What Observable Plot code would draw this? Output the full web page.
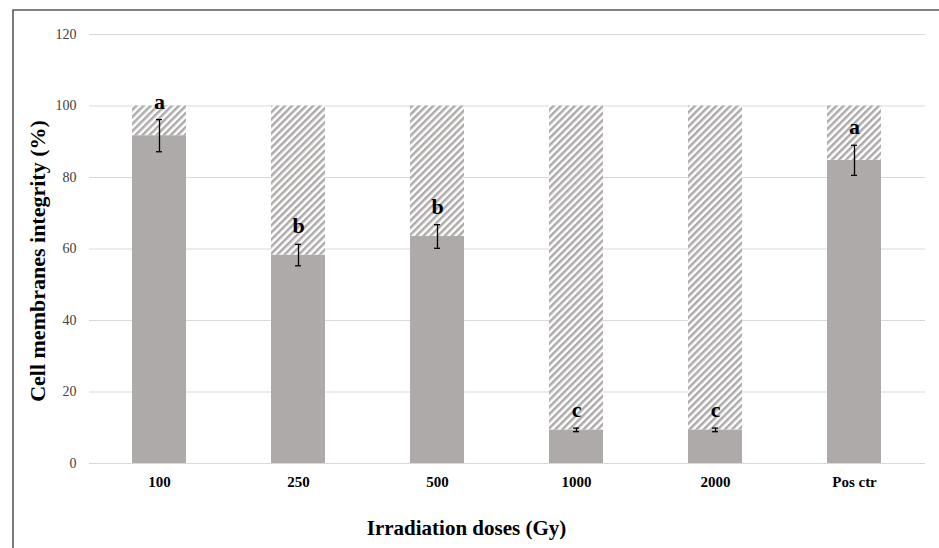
<!DOCTYPE html>
<html><head><meta charset="utf-8">
<script src="https://cdn.jsdelivr.net/npm/d3@7"></script>
<script src="https://cdn.jsdelivr.net/npm/@observablehq/plot@0.6"></script>
<style>body{margin:0;background:#fff;overflow:hidden}</style>
</head><body><div id="chart"></div>
<script>
// ---- data ----
const doses = ["100", "250", "500", "1000", "2000", "Pos ctr"];
const integrity = [91.7, 58.3, 63.5, 9.4, 9.4, 84.8];
const errors = [4.5, 3.0, 3.3, 0.5, 0.5, 4.2];
const letters = ["a", "b", "b", "c", "c", "a"];
const yTicks = [0, 20, 40, 60, 80, 100, 120];
const total = 100;

const rows = doses.map((d, i) => ({
  dose: d,
  mean: integrity[i],
  lo: integrity[i] - errors[i],
  hi: integrity[i] + errors[i],
  letter: letters[i]
}));

const serif = "'Liberation Serif', 'Times New Roman', serif";

const chart = Plot.plot({
  width: 939, height: 548,
  marginLeft: 89, marginRight: 14, marginTop: 34, marginBottom: 85,
  style: {fontFamily: serif, background: "white", color: "black"},
  x: {domain: doses, paddingInner: 0.61, paddingOuter: 0.305, label: null},
  y: {domain: [0, 120], label: null},
  marks: [
    Plot.gridY(yTicks, {stroke: "#d9d9d9", strokeOpacity: 1, strokeWidth: 1}),
    Plot.barY(rows, {x: "dose", y1: 0, y2: "mean", fill: "#aeaaaa"}),
    Plot.barY(rows, {x: "dose", y1: "mean", y2: total, fill: "url(#hatch)"}),
    Plot.ruleX(rows, {x: "dose", y1: "lo", y2: "hi", stroke: "black", strokeWidth: 1.3}),
    Plot.tickY(rows, {x: "dose", y: "lo", stroke: "black", strokeWidth: 1.3, insetLeft: 24, insetRight: 24}),
    Plot.tickY(rows, {x: "dose", y: "hi", stroke: "black", strokeWidth: 1.3, insetLeft: 24, insetRight: 24}),
    Plot.text(rows, {x: "dose", y: "hi", text: "letter", dy: -11, lineAnchor: "bottom",
      fontSize: 22, fontWeight: "bold", fill: "black"}),
    Plot.axisY({ticks: yTicks, tickSize: 0, tickPadding: 13, fontSize: 14, fill: "#404040", label: null}),
    Plot.axisX({tickSize: 0, tickPadding: 13, fontSize: 15, fontWeight: "bold", fill: "black", label: null}),
    Plot.text(["Irradiation doses (Gy)"], {frameAnchor: "bottom", textAnchor: "middle", dx: -41, dy: 71,
      fontSize: 21, fontWeight: "bold", fill: "black"}),
    Plot.text(["Cell membranes integrity (%)"], {frameAnchor: "left", textAnchor: "middle", rotate: -90,
      dx: -52, dy: 12, fontSize: 22, fontWeight: "bold", fill: "black"})
  ]
});

// hatch pattern (wide upward diagonal) and outer chart border
const svg = d3.select(chart);
const defs = svg.insert("defs", ":first-child");
const pat = defs.append("pattern")
  .attr("id", "hatch")
  .attr("patternUnits", "userSpaceOnUse")
  .attr("width", 5).attr("height", 5)
  .attr("patternTransform", "rotate(45)");
pat.append("rect").attr("width", 5).attr("height", 5).attr("fill", "white");
pat.append("rect").attr("width", 2.5).attr("height", 5).attr("fill", "#aeaaaa");
svg.append("path")
  .attr("d", "M13,560V10H950")
  .attr("fill", "none")
  .attr("stroke", "#595959")
  .attr("stroke-width", 1.6);

document.getElementById("chart").appendChild(chart);
</script>
</body></html>
